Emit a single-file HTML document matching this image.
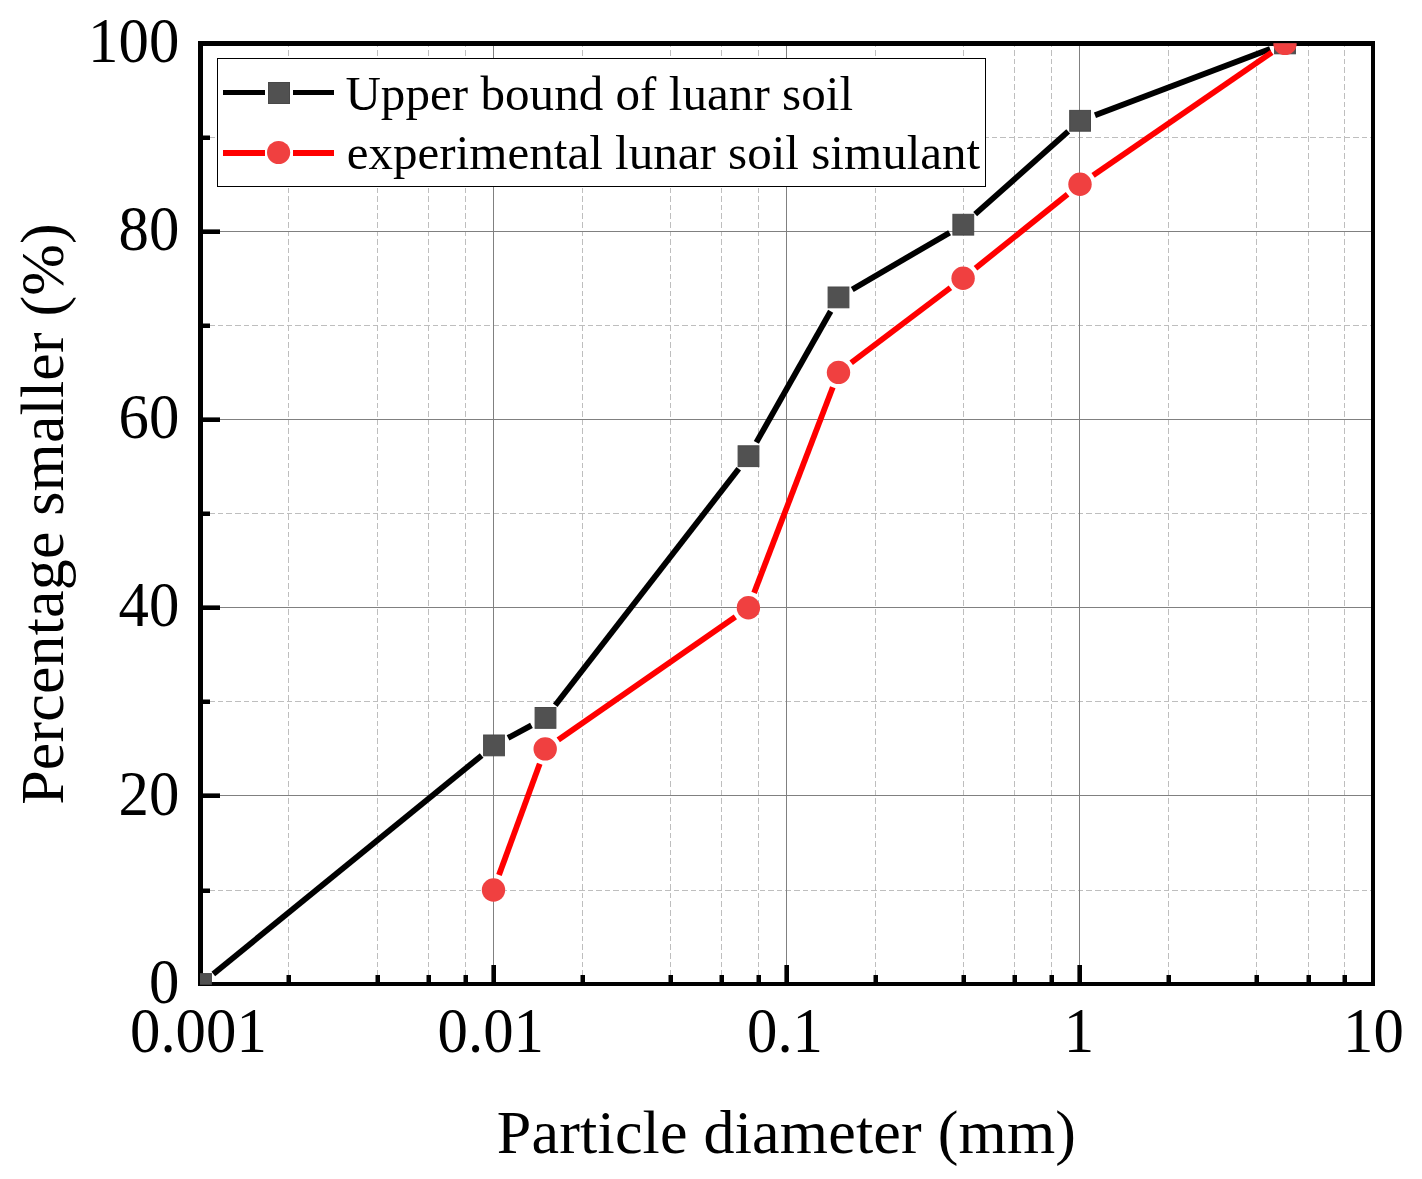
<!DOCTYPE html>
<html lang="en"><head><meta charset="utf-8"><title>Particle size distribution</title>
<style>html,body{margin:0;padding:0;background:#fff}body{width:1422px;height:1179px;overflow:hidden}svg{display:block}text{font-family:"Liberation Serif","Times New Roman",serif;fill:#000}</style></head><body>
<svg width="1422" height="1179" viewBox="0 0 1422 1179">
<rect width="1422" height="1179" fill="#fff"/>
<defs><clipPath id="pc"><rect x="200" y="43.3" width="1173" height="941.4"/></clipPath></defs>
<g stroke="#bebebe" stroke-width="1" stroke-dasharray="5.6 3" fill="none" shape-rendering="crispEdges">
<line x1="288.5" y1="41.4" x2="288.5" y2="982"/>
<line x1="377.5" y1="41.4" x2="377.5" y2="982"/>
<line x1="428.5" y1="41.4" x2="428.5" y2="982"/>
<line x1="465.5" y1="41.4" x2="465.5" y2="982"/>
<line x1="582.5" y1="41.4" x2="582.5" y2="982"/>
<line x1="670.5" y1="41.4" x2="670.5" y2="982"/>
<line x1="721.5" y1="41.4" x2="721.5" y2="982"/>
<line x1="758.5" y1="41.4" x2="758.5" y2="982"/>
<line x1="875.5" y1="41.4" x2="875.5" y2="982"/>
<line x1="963.5" y1="41.4" x2="963.5" y2="982"/>
<line x1="1014.5" y1="41.4" x2="1014.5" y2="982"/>
<line x1="1051.5" y1="41.4" x2="1051.5" y2="982"/>
<line x1="1168.5" y1="41.4" x2="1168.5" y2="982"/>
<line x1="1256.5" y1="41.4" x2="1256.5" y2="982"/>
<line x1="1308.5" y1="41.4" x2="1308.5" y2="982"/>
<line x1="1344.5" y1="41.4" x2="1344.5" y2="982"/>
<line x1="200.5" y1="890.5" x2="1371" y2="890.5"/>
<line x1="200.5" y1="701.5" x2="1371" y2="701.5"/>
<line x1="200.5" y1="513.5" x2="1371" y2="513.5"/>
<line x1="200.5" y1="325.5" x2="1371" y2="325.5"/>
<line x1="200.5" y1="137.5" x2="1371" y2="137.5"/>
</g>
<g stroke="#808080" stroke-width="1" fill="none" shape-rendering="crispEdges">
<line x1="493.5" y1="46" x2="493.5" y2="982"/>
<line x1="786.5" y1="46" x2="786.5" y2="982"/>
<line x1="1079.5" y1="46" x2="1079.5" y2="982"/>
<line x1="203" y1="795.5" x2="1371" y2="795.5"/>
<line x1="203" y1="607.5" x2="1371" y2="607.5"/>
<line x1="203" y1="419.5" x2="1371" y2="419.5"/>
<line x1="203" y1="231.5" x2="1371" y2="231.5"/>
</g>
<g fill="#000" shape-rendering="crispEdges">
<rect x="198" y="41" width="5" height="945"/>
<rect x="198" y="41" width="1177" height="5"/>
<rect x="1371" y="41" width="4" height="945"/>
<rect x="198" y="982" width="1177" height="4"/>
</g><g fill="#000">
<rect x="202" y="793.40" width="18" height="4.6"/>
<rect x="202" y="605.40" width="18" height="4.6"/>
<rect x="202" y="417.40" width="18" height="4.6"/>
<rect x="202" y="229.40" width="18" height="4.6"/>
<rect x="202" y="888.50" width="8" height="4.5"/>
<rect x="202" y="699.50" width="8" height="4.5"/>
<rect x="202" y="511.50" width="8" height="4.5"/>
<rect x="202" y="323.50" width="8" height="4.5"/>
<rect x="202" y="135.50" width="8" height="4.5"/>
</g><g fill="#000">
<rect x="491.40" y="965" width="4.6" height="18"/>
<rect x="784.40" y="965" width="4.6" height="18"/>
<rect x="1077.40" y="965" width="4.6" height="18"/>
<rect x="286.50" y="975" width="4.5" height="8"/>
<rect x="375.50" y="975" width="4.5" height="8"/>
<rect x="426.50" y="975" width="4.5" height="8"/>
<rect x="463.50" y="975" width="4.5" height="8"/>
<rect x="580.50" y="975" width="4.5" height="8"/>
<rect x="668.50" y="975" width="4.5" height="8"/>
<rect x="719.50" y="975" width="4.5" height="8"/>
<rect x="756.50" y="975" width="4.5" height="8"/>
<rect x="873.50" y="975" width="4.5" height="8"/>
<rect x="961.50" y="975" width="4.5" height="8"/>
<rect x="1012.50" y="975" width="4.5" height="8"/>
<rect x="1049.50" y="975" width="4.5" height="8"/>
<rect x="1166.50" y="975" width="4.5" height="8"/>
<rect x="1254.50" y="975" width="4.5" height="8"/>
<rect x="1306.50" y="975" width="4.5" height="8"/>
<rect x="1342.50" y="975" width="4.5" height="8"/>
</g>
<g clip-path="url(#pc)">
<g stroke="#000" stroke-width="5.8" fill="none"><line x1="213.33" y1="973.96" x2="481.67" y2="755.44"/><line x1="508.03" y1="737.91" x2="531.47" y2="725.39"/><line x1="555.25" y1="705.34" x2="738.75" y2="468.76"/><line x1="756.34" y1="442.37" x2="830.66" y2="311.23"/><line x1="852.24" y1="289.40" x2="949.56" y2="232.70"/><line x1="975.18" y1="214.13" x2="1068.22" y2="131.37"/><line x1="1094.97" y1="115.18" x2="1270.13" y2="49.02"/></g>
<g stroke="#f00" stroke-width="5.8" fill="none"><line x1="498.97" y1="875.09" x2="539.73" y2="763.83"/><line x1="558.26" y1="739.83" x2="735.34" y2="616.77"/><line x1="754.09" y1="592.85" x2="832.81" y2="387.25"/><line x1="851.18" y1="362.81" x2="950.42" y2="287.79"/><line x1="975.50" y1="268.24" x2="1067.60" y2="194.26"/><line x1="1093.10" y1="175.29" x2="1271.90" y2="52.41"/></g>
<g fill="#515151" stroke="#484848" stroke-width="1">
<rect x="190.60" y="973.60" width="20.8" height="20.8"/>
<rect x="483.60" y="735.00" width="20.8" height="20.8"/>
<rect x="535.10" y="707.50" width="20.8" height="20.8"/>
<rect x="738.10" y="445.80" width="20.8" height="20.8"/>
<rect x="828.10" y="287.00" width="20.8" height="20.8"/>
<rect x="952.90" y="214.30" width="20.8" height="20.8"/>
<rect x="1069.70" y="110.40" width="20.8" height="20.8"/>
<rect x="1274.60" y="33.00" width="20.8" height="20.8"/>
</g><g fill="#f04040">
<circle cx="493.50" cy="890.02" r="11.7"/>
<circle cx="545.20" cy="748.90" r="11.7"/>
<circle cx="748.40" cy="607.70" r="11.7"/>
<circle cx="838.50" cy="372.40" r="11.7"/>
<circle cx="963.10" cy="278.20" r="11.7"/>
<circle cx="1080.00" cy="184.30" r="11.7"/>
<circle cx="1285.00" cy="43.40" r="11.7"/>
</g></g>
<rect x="217.5" y="58.5" width="768" height="128" fill="#fff" stroke="#000" stroke-width="1" shape-rendering="crispEdges"/>
<g shape-rendering="crispEdges"><rect x="223" y="90" width="42" height="5" fill="#000"/><rect x="293" y="90" width="41" height="5" fill="#000"/>
<rect x="223" y="150" width="42" height="6" fill="#f00"/><rect x="293" y="150" width="41" height="6" fill="#f00"/>
<rect x="268.5" y="82.5" width="21" height="21" fill="#515151" stroke="#484848" stroke-width="1"/></g>
<circle cx="278.6" cy="152.5" r="11.6" fill="#f04040"/>
<text x="345.4" y="109.7" font-size="49" letter-spacing="0.06">Upper bound of luanr soil</text>
<text x="346.8" y="169.4" font-size="49" letter-spacing="0.02">experimental lunar soil simulant</text>
<text transform="translate(179.3,1002.7) scale(0.95,1)" font-size="64" text-anchor="end">0</text>
<text transform="translate(179.3,814.5) scale(0.95,1)" font-size="64" text-anchor="end">20</text>
<text transform="translate(179.3,626.4) scale(0.95,1)" font-size="64" text-anchor="end">40</text>
<text transform="translate(179.3,438.2) scale(0.95,1)" font-size="64" text-anchor="end">60</text>
<text transform="translate(179.3,250.1) scale(0.95,1)" font-size="64" text-anchor="end">80</text>
<text transform="translate(179.3,61.9) scale(0.95,1)" font-size="64" text-anchor="end">100</text>
<text transform="translate(198.4,1051.8) scale(0.95,1)" font-size="64" text-anchor="middle">0.001</text>
<text transform="translate(490.8,1051.8) scale(0.95,1)" font-size="64" text-anchor="middle">0.01</text>
<text transform="translate(785.0,1051.8) scale(0.95,1)" font-size="64" text-anchor="middle">0.1</text>
<text transform="translate(1078.9,1051.8) scale(0.95,1)" font-size="64" text-anchor="middle">1</text>
<text transform="translate(1373.5,1051.8) scale(0.95,1)" font-size="64" text-anchor="middle">10</text>
<text x="786.5" y="1153" font-size="62" text-anchor="middle" letter-spacing="0.2">Particle diameter (mm)</text>
<text transform="translate(63,514) rotate(-90)" font-size="62" text-anchor="middle" letter-spacing="0.15">Percentage smaller (%)</text>
</svg></body></html>
